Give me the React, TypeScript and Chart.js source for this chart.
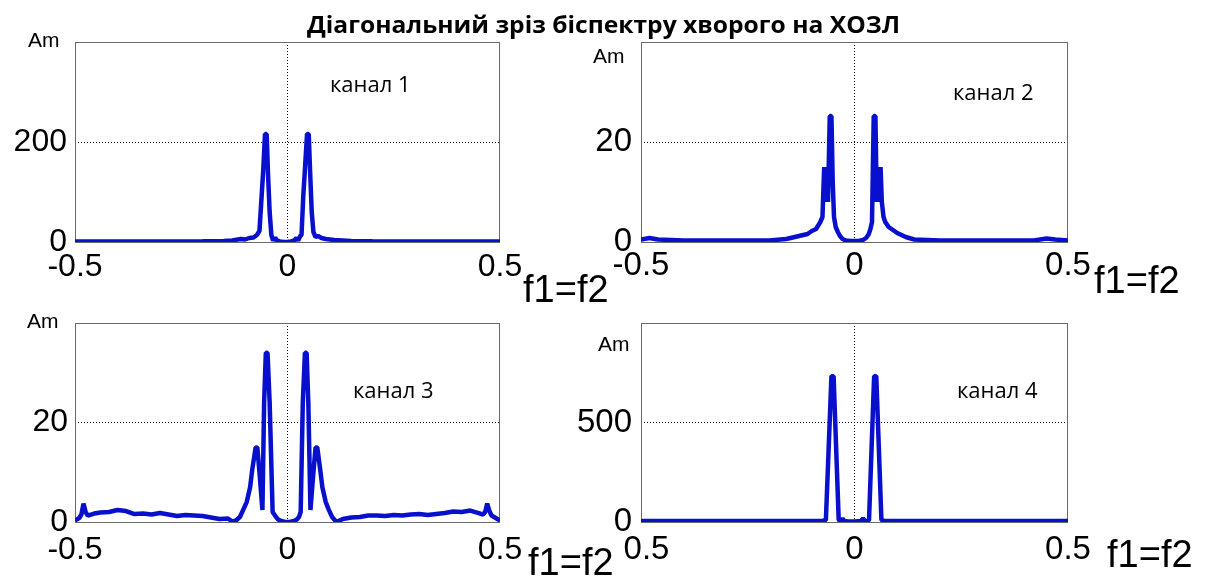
import React, { useEffect, useLayoutEffect, useRef } from "react";
import { Chart, registerables } from "chart.js";

Chart.register(...registerables);

// Diagonal slice of the bispectrum (f1 = f2), normalised frequency.
const freq1 = [-0.5, -0.4, -0.3, -0.2, -0.15, -0.13, -0.11, -0.1, -0.09, -0.08, -0.072, -0.066, -0.061, -0.057, -0.053, -0.049, -0.046, -0.042, -0.038, -0.034, -0.029, -0.025, -0.018, -0.008, 0, 0.008, 0.016, 0.021, 0.025, 0.03, 0.033, 0.037, 0.041, 0.046, 0.05, 0.053, 0.057, 0.061, 0.066, 0.072, 0.08, 0.09, 0.1, 0.11, 0.13, 0.15, 0.2, 0.3, 0.4, 0.5];
const amp1 = [1, 1, 1, 1.5, 2, 3, 6, 5, 8, 9, 14, 22, 90, 145, 216, 216, 140, 60, 14, 3, 9, 3, 1, 0, 0, 1, 3, 8, 3, 12, 14, 90, 145, 216, 216, 145, 60, 20, 10, 12, 8, 6, 5, 4, 3, 2, 1.5, 1, 1, 1];

const freq2 = [-0.5, -0.48, -0.46, -0.4, -0.3, -0.2, -0.16, -0.13, -0.11, -0.1, -0.09, -0.08, -0.075, -0.071, -0.068, -0.065, -0.062, -0.058, -0.054, -0.051, -0.048, -0.044, -0.039, -0.034, -0.028, -0.02, -0.01, 0, 0.01, 0.02, 0.027, 0.033, 0.037, 0.041, 0.045, 0.049, 0.052, 0.055, 0.058, 0.061, 0.064, 0.068, 0.072, 0.08, 0.09, 0.1, 0.12, 0.14, 0.2, 0.3, 0.42, 0.45, 0.47, 0.5];
const amp2 = [0.5, 0.8, 0.5, 0.3, 0.3, 0.3, 0.6, 1.2, 1.6, 2.2, 2.6, 4, 5, 15, 8, 15, 8, 25.2, 25.2, 12, 5, 3, 2, 1.2, 0.6, 0.3, 0.2, 0.2, 0.2, 0.4, 0.8, 1.5, 2.5, 4, 25.2, 25.2, 8, 15, 8, 15, 8, 5, 4, 3, 2.4, 1.8, 1, 0.5, 0.3, 0.3, 0.3, 0.7, 0.5, 0.3];

const freq3 = [-0.5, -0.49, -0.485, -0.48, -0.475, -0.47, -0.455, -0.44, -0.42, -0.4, -0.38, -0.36, -0.34, -0.32, -0.3, -0.28, -0.26, -0.24, -0.22, -0.2, -0.18, -0.16, -0.14, -0.13, -0.12, -0.112, -0.104, -0.096, -0.088, -0.083, -0.075, -0.071, -0.065, -0.059, -0.055, -0.051, -0.047, -0.042, -0.035, -0.031, -0.027, -0.022, -0.015, -0.005, 0.005, 0.015, 0.022, 0.027, 0.031, 0.036, 0.041, 0.045, 0.049, 0.054, 0.06, 0.066, 0.07, 0.077, 0.082, 0.09, 0.097, 0.105, 0.112, 0.118, 0.13, 0.15, 0.17, 0.19, 0.21, 0.23, 0.25, 0.27, 0.29, 0.31, 0.33, 0.35, 0.37, 0.39, 0.41, 0.43, 0.45, 0.46, 0.465, 0.47, 0.475, 0.48, 0.49, 0.5];
const amp3 = [0.3, 0.8, 1.5, 3.7, 2, 1.3, 1.7, 1.9, 2, 2.4, 2.2, 1.6, 1.7, 1.5, 1.8, 1.5, 1.2, 1.4, 1.3, 1.2, 0.9, 0.6, 0.7, 0.1, 0.4, 1, 2.5, 4, 7, 10.5, 15, 15, 9, 2.4, 24, 34, 34, 24, 2, 1.5, 1, 0.5, 0.2, 0, 0, 0.2, 0.5, 1, 2, 24, 34, 34, 24, 2.4, 9, 15, 15, 10.5, 7, 4, 2.5, 1, 0.3, 0.1, 0.6, 0.9, 1, 1.3, 1.3, 1.2, 1.4, 1.3, 1.5, 1.6, 1.4, 1.6, 1.8, 2.1, 2, 2.3, 1.8, 1.5, 2, 3.7, 2.2, 1.3, 0.8, 0.3];

const freq4 = [-0.5, -0.2, -0.1, -0.075, -0.067, -0.054, -0.049, -0.037, -0.033, -0.028, -0.024, -0.015, 0, 0.015, 0.02, 0.024, 0.03, 0.034, 0.046, 0.051, 0.063, 0.07, 0.1, 0.2, 0.5];
const amp4 = [5, 5, 5, 5, 10, 733, 733, 10, 5, 18, 5, 3, 3, 5, 18, 6, 5, 10, 733, 733, 10, 5, 5, 5, 5];

const xTicks = [-0.5, 0, 0.5];
const xTickLabels = ["-0.5", "0", "0.5"];
const yTicks1 = [0, 200];
const yTicks2 = [0, 20];
const yTicks3 = [0, 20];
const yTicks4 = [0, 500];
const yMax = [400, 40, 40, 1000];
const channelNames = ["канал 1", "канал 2", "канал 3", "канал 4"];
const titleText = "Діагональний зріз біспектру хворого на ХОЗЛ";
const yAxisName = "Am";
const xAxisName = "f1=f2";

const LINE_COLOR = "rgb(8,16,206)";
const SANS = "'Liberation Sans', Arial, sans-serif";
const OPEN = "'Open Sans', sans-serif";
// baseline offset (fraction of font size) for a line box whose height equals the font size
const K_SANS = 0.8465;
const K_OPEN = 0.888;

type Rect = { left: number; top: number; width: number; height: number };
type Area = { left: number; top: number; right: number; bottom: number };
type PanelDef = {
  freq: number[];
  amp: number[];
  yTicks: number[];
  yMax: number;
  canvas: Rect;
  area: Area;
  tickSize: number;
  xPad: number;
  yPad: number;
};

const panels: PanelDef[] = [
  { freq: freq1, amp: amp1, yTicks: yTicks1, yMax: yMax[0], canvas: { left: 0, top: 0, width: 560, height: 300 }, area: { left: 75, top: 42, right: 500, bottom: 242 }, tickSize: 32, xPad: 6, yPad: 8 },
  { freq: freq2, amp: amp2, yTicks: yTicks2, yMax: yMax[1], canvas: { left: 540, top: 0, width: 666, height: 300 }, area: { left: 641, top: 42, right: 1068, bottom: 242 }, tickSize: 33, xPad: 4, yPad: 9 },
  { freq: freq3, amp: amp3, yTicks: yTicks3, yMax: yMax[2], canvas: { left: 0, top: 290, width: 560, height: 286 }, area: { left: 75, top: 323, right: 500, bottom: 522 }, tickSize: 32, xPad: 9, yPad: 7 },
  { freq: freq4, amp: amp4, yTicks: yTicks4, yMax: yMax[3], canvas: { left: 540, top: 290, width: 666, height: 286 }, area: { left: 641, top: 323, right: 1068, bottom: 522 }, tickSize: 33, xPad: 8, yPad: 9 },
];

type TextDef = { text: string; left: number; baseline: number; size: number; family: string; k: number; bg?: boolean };

const texts: TextDef[] = [
  { text: yAxisName, left: 28, baseline: 47, size: 21, family: SANS, k: K_SANS },
  { text: yAxisName, left: 593, baseline: 63, size: 21, family: SANS, k: K_SANS },
  { text: yAxisName, left: 27, baseline: 328, size: 21, family: SANS, k: K_SANS },
  { text: yAxisName, left: 598, baseline: 351, size: 21, family: SANS, k: K_SANS },
  { text: channelNames[0], left: 330, baseline: 92, size: 22, family: OPEN, k: K_OPEN },
  { text: channelNames[1], left: 953, baseline: 100, size: 22, family: OPEN, k: K_OPEN },
  { text: channelNames[2], left: 353, baseline: 398, size: 22, family: OPEN, k: K_OPEN },
  { text: channelNames[3], left: 957, baseline: 398, size: 22, family: OPEN, k: K_OPEN },
  { text: xAxisName, left: 523, baseline: 302, size: 38, family: SANS, k: K_SANS },
  { text: xAxisName, left: 1094, baseline: 293, size: 38, family: SANS, k: K_SANS },
  { text: xAxisName, left: 528, baseline: 575, size: 38, family: SANS, k: K_SANS, bg: true },
  { text: xAxisName, left: 1107, baseline: 567, size: 38, family: SANS, k: K_SANS },
];

function PanelChart({ p }: { p: PanelDef }) {
  const ref = useRef<HTMLCanvasElement>(null);
  useEffect(() => {
    const canvas = ref.current;
    if (!canvas) return;
    const points = p.freq.map((f, i) => ({ x: f, y: p.amp[i] }));
    const localLeft = p.area.left - p.canvas.left;
    const localTop = p.area.top - p.canvas.top;
    const localRight = p.canvas.left + p.canvas.width - p.area.right;
    const localBottom = p.canvas.top + p.canvas.height - p.area.bottom;
    const frame = {
      id: "frame",
      beforeDatasetsDraw(chart: any) {
        const { ctx, chartArea: a } = chart;
        ctx.save();
        ctx.strokeStyle = "#6a6a6a";
        ctx.lineWidth = 1;
        ctx.strokeRect(Math.round(a.left) + 0.5, Math.round(a.top) + 0.5, Math.round(a.right - a.left) - 1, Math.round(a.bottom - a.top));
        ctx.restore();
      },
    };
    const chart = new Chart(canvas, {
      type: "line",
      data: {
        datasets: [
          {
            data: points,
            borderColor: LINE_COLOR,
            borderWidth: 4.5,
            pointRadius: 0,
            tension: 0,
            fill: false,
            borderJoinStyle: "bevel",
          },
        ],
      },
      options: {
        animation: false,
        responsive: false,
        events: [],
        layout: { padding: { left: 0, top: localTop, right: localRight, bottom: 0 } },
        plugins: { legend: { display: false }, tooltip: { enabled: false }, title: { display: false } },
        scales: {
          x: {
            type: "linear",
            min: -0.5,
            max: 0.5,
            afterBuildTicks: (s: any) => {
              s.ticks = xTicks.map((v) => ({ value: v }));
            },
            afterFit: (s: any) => {
              s.height = localBottom;
            },
            ticks: {
              autoSkip: false,
              maxRotation: 0,
              padding: p.xPad,
              color: "#000",
              font: { family: SANS, size: p.tickSize },
              callback: (_v: any, i: number) => xTickLabels[i],
            },
            grid: {
              drawTicks: false,
              lineWidth: 1,
              color: (c: any) => (c.tick && c.tick.value === 0 ? "#000" : "rgba(0,0,0,0)"),
            },
            border: { display: false, dash: [1, 2] },
          },
          y: {
            type: "linear",
            min: 0,
            max: p.yMax,
            afterBuildTicks: (s: any) => {
              s.ticks = p.yTicks.map((v) => ({ value: v }));
            },
            afterFit: (s: any) => {
              s.width = localLeft;
            },
            ticks: {
              autoSkip: false,
              padding: p.yPad,
              color: "#000",
              font: { family: SANS, size: p.tickSize },
              callback: (v: any) => String(v),
            },
            grid: {
              drawTicks: false,
              lineWidth: 1,
              color: (c: any) => (c.tick && c.tick.value !== 0 ? "#000" : "rgba(0,0,0,0)"),
            },
            border: { display: false, dash: [1, 2] },
          },
        },
      },
      plugins: [frame],
    } as any);
    return () => chart.destroy();
  }, [p]);
  return (
    <canvas
      ref={ref}
      width={p.canvas.width}
      height={p.canvas.height}
      style={{ position: "absolute", left: p.canvas.left, top: p.canvas.top, width: p.canvas.width, height: p.canvas.height }}
    />
  );
}

function Title() {
  const ref = useRef<HTMLSpanElement>(null);
  useLayoutEffect(() => {
    const el = ref.current;
    if (!el) return;
    const w = el.getBoundingClientRect().width;
    if (w > 0) el.style.transform = `scaleX(${593 / w})`;
  }, []);
  const size = 24;
  return (
    <span
      ref={ref}
      style={{
        position: "absolute",
        left: 307,
        top: 33 - K_OPEN * size,
        fontFamily: OPEN,
        fontWeight: 700,
        fontSize: size,
        lineHeight: `${size}px`,
        whiteSpace: "nowrap",
        transformOrigin: "0 0",
        color: "#000",
      }}
    >
      {titleText}
    </span>
  );
}

export default function App() {
  return (
    <div style={{ position: "fixed", left: 0, top: 0, width: 1206, height: 576, background: "#fff", overflow: "hidden" }}>
      {panels.map((p, i) => (
        <PanelChart key={i} p={p} />
      ))}
      {texts.map((t, i) => (
        <span
          key={i}
          style={{
            position: "absolute",
            left: t.left,
            top: t.baseline - t.k * t.size,
            fontFamily: t.family,
            fontSize: t.size,
            lineHeight: `${t.size}px`,
            whiteSpace: "nowrap",
            color: "#000",
            background: t.bg ? "#fff" : "transparent",
            paddingRight: t.bg ? 8 : 0,
          }}
        >
          {t.text}
        </span>
      ))}
      <Title />
    </div>
  );
}
